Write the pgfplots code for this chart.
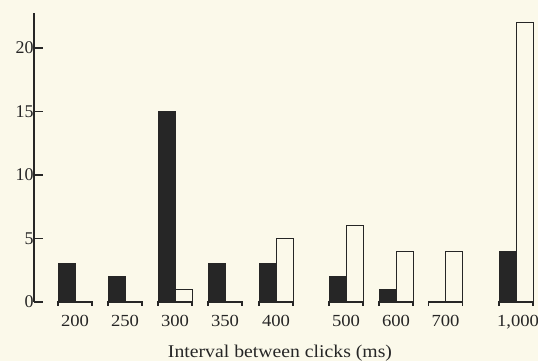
\documentclass[border=0pt]{standalone}
\usepackage{pgfplots}
\pgfplotsset{compat=1.18}
\usepackage{fontspec}
\setmainfont{Liberation Serif}
\definecolor{paper}{HTML}{FBF9EA}
\definecolor{ink}{HTML}{262626}
\begin{document}
\begin{tikzpicture}
\fill[paper] (-34bp,-59bp) rectangle (504bp,302bp);
\begin{axis}[
  at={(0,0)}, anchor=south west,
  width=502bp, height=289bp, scale only axis,
  xmin=34, xmax=536, ymin=0, ymax=22.75,
  clip=false,
  axis x line=none,
  axis y line*=left,
  y axis line style={line width=1.3bp, color=ink},
  ytick={0,5,10,15,20},
  tick align=inside,
  major tick length=9bp,
  ytick style={line width=1.3bp, color=ink},
  yticklabel style={font=\fontsize{18}{19}\selectfont, xshift=3bp, text=ink},
  /pgf/number format/assume math mode=true,
]
% black bars
\addplot[ybar, bar width=17, bar shift=-8.5, fill=ink, draw=ink, line width=0.8bp]
  coordinates {(75,3) (125,2) (175,15) (225,3) (276,3) (346,2) (396,1) (445.5,0) (516,4)};
% white bars
\addplot[ybar, bar width=17, bar shift=8.5, fill=paper, draw=ink, line width=1bp]
  coordinates {(75,0) (125,0) (175,1) (225,0) (276,5) (346,6) (396,4) (445.5,4) (516,22)};
% group baselines
\addplot[line width=1.3bp, color=ink, unbounded coords=jump] coordinates {
  (58,-0.3) (58,0) (92,0) (92,-0.3) (92,nan)
  (108,-0.3) (108,0) (142,0) (142,-0.3) (142,nan)
  (158,-0.3) (158,0) (192,0) (192,-0.3) (192,nan)
  (208,-0.3) (208,0) (242,0) (242,-0.3) (242,nan)
  (259,-0.3) (259,0) (293,0) (293,-0.3) (293,nan)
  (329,-0.3) (329,0) (363,0) (363,-0.3) (363,nan)
  (379,-0.3) (379,0) (413,0) (413,-0.3) (413,nan)
  (428.5,-0.3) (428.5,0) (462.5,0) (462.5,-0.3) (462.5,nan)
  (499,-0.3) (499,0) (533,0) (533,-0.3)
};
% category labels
\foreach \x/\l in {75/200,125/250,175/300,225/350,276/400,346/500,396/600,445.5/700,518/{1,000}}{
  \edef\tmp{\noexpand\node[anchor=base, font=\noexpand\fontsize{17}{18}\noexpand\selectfont, text=ink] at (axis cs:\x,-1.95) {\noexpand\scalebox{1.1}[1]{\l}};}
  \tmp
}
\node[anchor=base, font=\fontsize{18}{19}\selectfont, text=ink] at (axis cs:280,-4.35) {\scalebox{1.1}[1]{Interval between clicks (ms)}};
\end{axis}
\pgfresetboundingbox
\path (-34bp,-59bp) rectangle (504bp,302bp);
\end{tikzpicture}
\end{document}
